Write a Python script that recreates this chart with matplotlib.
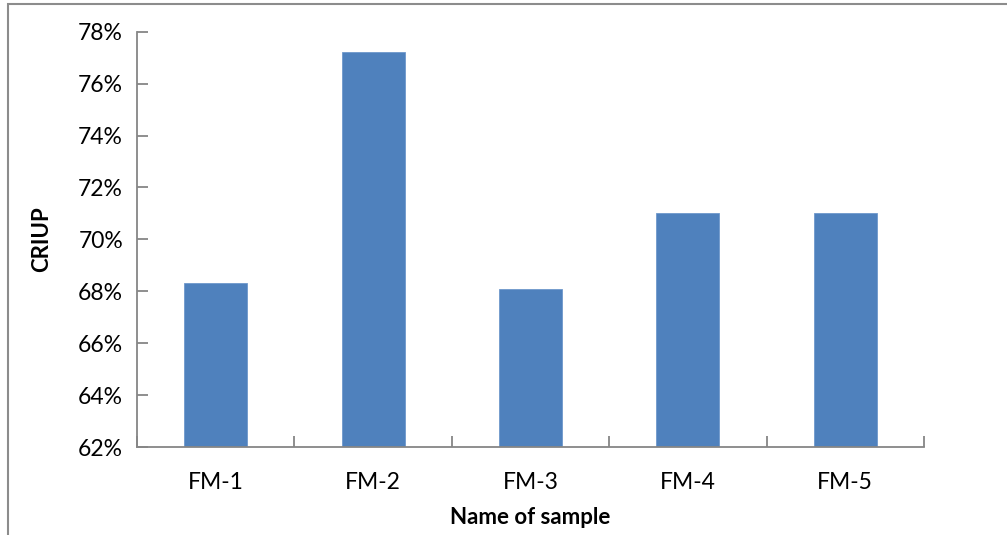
import matplotlib
matplotlib.use("Agg")
import matplotlib.pyplot as plt
from matplotlib.patches import Rectangle
from matplotlib.ticker import PercentFormatter, MultipleLocator

samples = ["FM-1", "FM-2", "FM-3", "FM-4", "FM-5"]
criup = [68.3, 77.2, 68.1, 71.0, 71.0]

plt.rcParams["font.family"] = ["Lato", "DejaVu Sans"]

W, H = 1007, 535
fig = plt.figure(figsize=(W / 100, H / 100), dpi=100)
ax = fig.add_axes([137 / W, 1 - 447 / H, (924 - 137) / W, (447 - 31.7) / H])

x = range(len(samples))
ax.bar(x, criup, width=0.4, color="#4F81BD", edgecolor="#6F98CC", linewidth=0.6, zorder=2)

ax.set_ylim(62, 78)
ax.set_xlim(-0.5, len(samples) - 0.5)
ax.yaxis.set_major_locator(MultipleLocator(2))
ax.yaxis.set_major_formatter(PercentFormatter(decimals=0))

ax.set_xticks([i + 0.5 for i in range(-1, len(samples))])
ax.set_xticklabels([])
ax.set_xticks(list(x), minor=True)
ax.set_xticklabels(samples, minor=True)

for s in ("top", "right"):
    ax.spines[s].set_visible(False)
for s in ("left", "bottom"):
    ax.spines[s].set_color("#868686")
    ax.spines[s].set_linewidth(1.3)

ax.tick_params(axis="y", direction="in", length=8, width=1.3, color="#868686",
               labelsize=16.5, pad=10)
ax.tick_params(axis="x", which="major", direction="in", length=8, width=1.3, color="#868686")
ax.tick_params(axis="x", which="minor", length=0, labelsize=16.5, pad=18)

ax.set_ylabel("CRIUP", fontsize=16, fontweight="bold")
ax.yaxis.set_label_coords((52 - 137) / (924 - 137), 0.5)
ax.set_xlabel("Name of sample", fontsize=16, fontweight="bold", labelpad=10)

fig.patches.append(Rectangle((8 / W, -0.1), 1.2, 1 - 4 / H + 0.1, transform=fig.transFigure,
                             fill=False, edgecolor="#8C8C8C", linewidth=1.5))

fig.savefig("out.png", dpi=100)
